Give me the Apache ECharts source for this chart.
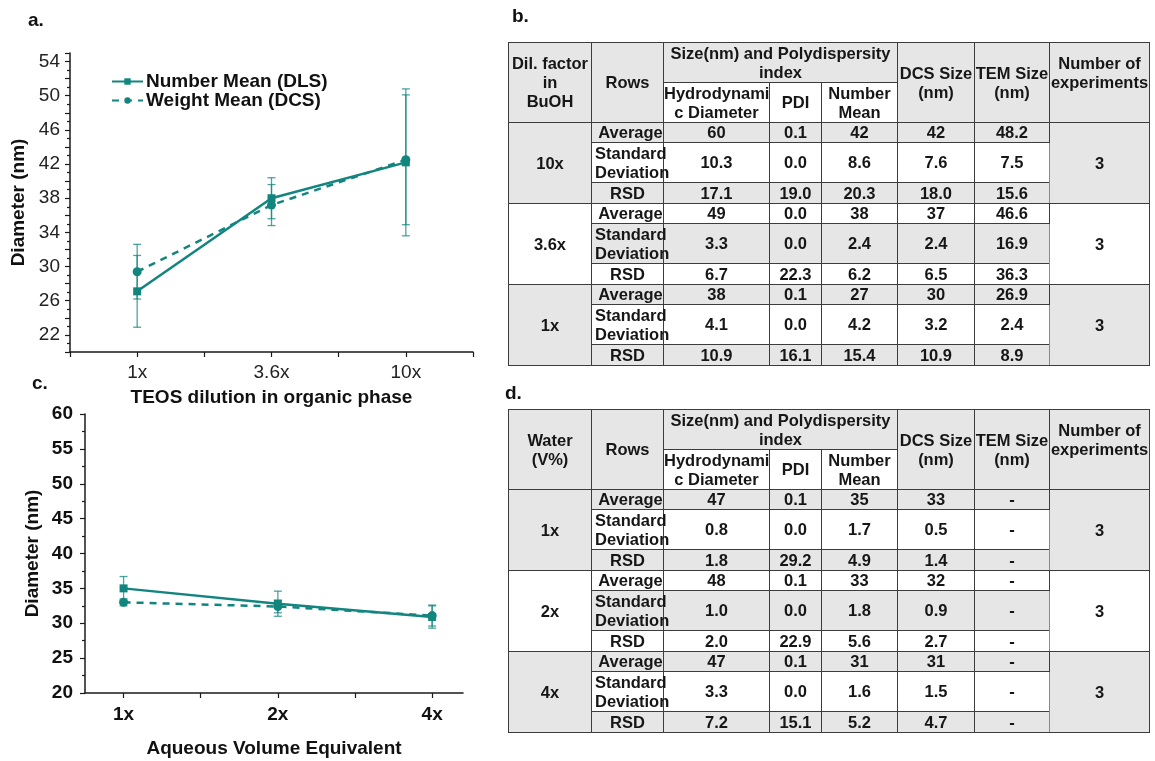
<!DOCTYPE html>
<html><head><meta charset="utf-8">
<script src="https://cdn.jsdelivr.net/npm/echarts@6/dist/echarts.min.js"></script>
<style>
body{margin:0;background:#fff;}
#chart{position:absolute;left:0;top:0;width:1155px;height:761px;}
.lab{position:absolute;font:bold 19px/22px "Liberation Sans",Arial,sans-serif;color:#111;}
table.t{position:absolute;left:508px;border-collapse:collapse;table-layout:fixed;width:641px;font:bold 16.5px/19px "Liberation Sans",Arial,sans-serif;color:#161616;border-top:1px solid #9a9a9a;border-right:1px solid #9a9a9a;}
table.t td{border:1px solid #3c3c3c;padding:0;text-align:center;vertical-align:middle;white-space:nowrap;overflow:visible;}
table.t td.g{background:#e6e6e6;}
table.t td.sd{text-align:left;padding-left:3px;}
table.t td.ex{vertical-align:top;padding-top:11px;border-left:1px solid #8a8a8a;}
table.t td.av{padding-left:6px;}
</style></head>
<body>
<div id="chart"></div>
<div class="lab" style="left:28px;top:9px">a.</div>
<div class="lab" style="left:512px;top:5px">b.</div>
<div class="lab" style="left:32px;top:372px">c.</div>
<div class="lab" style="left:505px;top:382px">d.</div>
<table class="t" id="tabB" style="top:42px"></table>
<table class="t" id="tabD" style="top:409px"></table>
<script>
// ---------- chart a data ----------
const catsA = ['1x', '3.6x', '10x'];
const aDlsMean = [27.1, 38.0, 42.2];
const aDlsErr  = [4.2, 2.4, 8.6];
const aDcsMean = [29.4, 37.2, 42.5];
const aDcsErr  = [3.2, 2.4, 7.6];
const aYLabels = [22, 26, 30, 34, 38, 42, 46, 50, 54];
// ---------- chart c data ----------
const catsC = ['1x', '2x', '4x'];
const cDlsMean = [35.0, 32.8, 30.9];
const cDlsErr  = [1.7, 1.8, 1.6];
const cDcsMean = [33.0, 32.4, 31.1];
const cDcsErr  = [0.5, 0.9, 1.5];
// ---------- table b data ----------
const rowNames = ['Average', 'Standard<br>Deviation', 'RSD'];
const bGroups = ['10x', '3.6x', '1x'];
const bHydro = ['60','10.3','17.1', '49','3.3','6.7', '38','4.1','10.9'];
const bPdi   = ['0.1','0.0','19.0', '0.0','0.0','22.3', '0.1','0.0','16.1'];
const bNum   = ['42','8.6','20.3', '38','2.4','6.2', '27','4.2','15.4'];
const bDcs   = ['42','7.6','18.0', '37','2.4','6.5', '30','3.2','10.9'];
const bTem   = ['48.2','7.5','15.6', '46.6','16.9','36.3', '26.9','2.4','8.9'];
const bExp   = ['3', '3', '3'];
// ---------- table d data ----------
const dGroups = ['1x', '2x', '4x'];
const dHydro = ['47','0.8','1.8', '48','1.0','2.0', '47','3.3','7.2'];
const dPdi   = ['0.1','0.0','29.2', '0.1','0.0','22.9', '0.1','0.0','15.1'];
const dNum   = ['35','1.7','4.9', '33','1.8','5.6', '31','1.6','5.2'];
const dDcs   = ['33','0.5','1.4', '32','0.9','2.7', '31','1.5','4.7'];
const dTem   = ['-','-','-', '-','-','-', '-','-','-'];
const dExp   = ['3', '3', '3'];

const TEAL = '#12857f';
const ERR = 'rgba(18,133,127,0.75)';
const FONT = '"Liberation Sans", Arial, sans-serif';

function buildTable(id, firstHead, groups, hydro, pdi, num, dcs, tem, exp) {
  const widths = [83, 72, 106, 52, 76, 77, 75, 100];
  let h = '<colgroup>' + widths.map(w => '<col style="width:' + w + 'px">').join('') + '</colgroup>';
  h += '<tr style="height:40px"><td class="g" rowspan="2">' + firstHead + '</td>' +
       '<td class="g" rowspan="2">Rows</td>' +
       '<td class="g" colspan="3">Size(nm) and Polydispersity<br>index</td>' +
       '<td class="g" rowspan="2">DCS Size<br>(nm)</td>' +
       '<td class="g" rowspan="2">TEM Size<br>(nm)</td>' +
       '<td class="g ex" rowspan="2">Number of<br>experiments</td></tr>';
  h += '<tr style="height:40px"><td>Hydrodynami<br>c Diameter</td><td>PDI</td><td>Number<br>Mean</td></tr>';
  const rh = [20, 40, 21];
  groups.forEach((gname, gi) => {
    const shade = gi % 2 === 0;
    for (let r = 0; r < 3; r++) {
      const k = gi * 3 + r;
      const rowShade = shade ? (r !== 1) : (r === 1);
      const c = rowShade ? ' class="g"' : '';
      const nameCls = (rowShade ? 'g ' : '') + (r === 1 ? 'sd' : (r === 0 ? 'av' : ''));
      h += '<tr style="height:' + rh[r] + 'px">';
      if (r === 0) h += '<td rowspan="3"' + (shade ? ' class="g"' : '') + '>' + gname + '</td>';
      h += '<td class="' + nameCls + '">' + rowNames[r] + '</td>';
      h += '<td' + c + '>' + hydro[k] + '</td><td' + c + '>' + pdi[k] + '</td><td' + c + '>' + num[k] +
           '</td><td' + c + '>' + dcs[k] + '</td><td' + c + '>' + tem[k] + '</td>';
      if (r === 0) h += '<td rowspan="3" style="border-left:1px solid #8a8a8a"' + (shade ? ' class="g"' : '') + '>' + exp[gi] + '</td>';
      h += '</tr>';
    }
  });
  document.getElementById(id).innerHTML = h;
}
buildTable('tabB', 'Dil. factor<br>in<br>BuOH', bGroups, bHydro, bPdi, bNum, bDcs, bTem, bExp);
buildTable('tabD', 'Water<br>(V%)', dGroups, dHydro, dPdi, dNum, dDcs, dTem, dExp);

function errItem(params, api) {
  const x = api.value(0), y = api.value(1), e = api.value(2);
  const top = api.coord([x, y + e]), bot = api.coord([x, y - e]);
  const hw = 4;
  const style = { stroke: ERR, lineWidth: 1.3, fill: null };
  return { type: 'group', children: [
    { type: 'line', shape: { x1: top[0], y1: top[1], x2: bot[0], y2: bot[1] }, style: style },
    { type: 'line', shape: { x1: top[0] - hw, y1: top[1], x2: top[0] + hw, y2: top[1] }, style: style },
    { type: 'line', shape: { x1: bot[0] - hw, y1: bot[1], x2: bot[0] + hw, y2: bot[1] }, style: style }
  ]};
}
const pts = (m) => m.map((v, i) => [i, v]);
const errPts = (m, e) => m.map((v, i) => [i, v, e[i]]);

const axisLine = { show: true, onZero: false, lineStyle: { color: '#1a1a1a', width: 1.5 } };
const tickStyle = { color: '#1a1a1a', width: 1.2 };

const chart = echarts.init(document.getElementById('chart'), null, { renderer: 'canvas' });
chart.setOption({
  animation: false,
  backgroundColor: '#fff',
  textStyle: { fontFamily: FONT },
  legend: {
    left: 106, top: 67, orient: 'vertical', itemGap: 0, itemWidth: 31, itemHeight: 8,
    data: ['Number Mean (DLS)', 'Weight Mean (DCS)'],
    textStyle: { fontFamily: FONT, fontSize: 19, fontWeight: 'bold', color: '#111', lineHeight: 17, padding: [0, 0, 0, -2] }
  },
  grid: [
    { left: 70, top: 53, width: 403, height: 299, containLabel: false, outerBoundsMode: 'none' },
    { left: 85, top: 414, width: 378, height: 279, containLabel: false, outerBoundsMode: 'none' }
  ],
  xAxis: [
    { gridIndex: 0, type: 'value', min: -0.5, max: 2.5, interval: 0.5,
      axisLine: axisLine, splitLine: { show: false },
      axisTick: { show: true, length: 5, lineStyle: tickStyle },
      axisLabel: { customValues: [0, 1, 2], formatter: v => catsA[Math.round(v)], fontSize: 19, color: '#222', margin: 11, fontFamily: FONT },
      name: 'TEOS dilution in organic phase', nameLocation: 'middle', nameGap: 36,
      nameTextStyle: { fontSize: 19, fontWeight: 'bold', color: '#111', fontFamily: FONT } },
    { gridIndex: 1, type: 'value', min: -0.25, max: 2.2, interval: 0.25,
      axisLine: axisLine, splitLine: { show: false },
      axisTick: { show: true, length: 5, customValues: [0, 0.5, 1, 1.5, 2], lineStyle: tickStyle },
      axisLabel: { customValues: [0, 1, 2], formatter: v => catsC[Math.round(v)], fontSize: 19, fontWeight: 'bold', color: '#111', margin: 12, fontFamily: FONT },
      name: 'Aqueous Volume Equivalent', nameLocation: 'middle', nameGap: 46,
      nameTextStyle: { fontSize: 19, fontWeight: 'bold', color: '#111', fontFamily: FONT } }
  ],
  yAxis: [
    { gridIndex: 0, type: 'value', min: 20, max: 55, interval: 2,
      axisLine: axisLine, splitLine: { show: false },
      axisTick: { show: true, length: 5, lineStyle: tickStyle },
      minorTick: { show: true, splitNumber: 2, length: 3, lineStyle: tickStyle },
      axisLabel: { customValues: aYLabels, fontSize: 19, color: '#222', margin: 10, fontFamily: FONT },
      name: 'Diameter (nm)', nameLocation: 'middle', nameGap: 42,
      nameTextStyle: { fontSize: 19, fontWeight: 'bold', color: '#111', fontFamily: FONT } },
    { gridIndex: 1, type: 'value', min: 20, max: 60, interval: 5,
      axisLine: axisLine, splitLine: { show: false },
      axisTick: { show: true, length: 5, lineStyle: tickStyle },
      minorTick: { show: true, splitNumber: 2, length: 3, lineStyle: tickStyle },
      axisLabel: { fontSize: 19, fontWeight: 'bold', color: '#111', margin: 12, fontFamily: FONT },
      name: 'Diameter (nm)', nameLocation: 'middle', nameGap: 43,
      nameTextStyle: { fontSize: 19, fontWeight: 'bold', color: '#111', fontFamily: FONT } }
  ],
  series: [
    { name: 'errA1', type: 'custom', xAxisIndex: 0, yAxisIndex: 0, renderItem: errItem, data: errPts(aDlsMean, aDlsErr), z: 1 },
    { name: 'errA2', type: 'custom', xAxisIndex: 0, yAxisIndex: 0, renderItem: errItem, data: errPts(aDcsMean, aDcsErr), z: 1 },
    { name: 'Weight Mean (DCS)', type: 'line', xAxisIndex: 0, yAxisIndex: 0, data: pts(aDcsMean),
      symbol: 'circle', symbolSize: 9, color: TEAL,
      lineStyle: { width: 2.5, type: [7, 6], color: TEAL }, itemStyle: { color: TEAL }, z: 2 },
    { name: 'Number Mean (DLS)', type: 'line', xAxisIndex: 0, yAxisIndex: 0, data: pts(aDlsMean),
      symbol: 'rect', symbolSize: 8, color: TEAL,
      lineStyle: { width: 2.5, type: 'solid', color: TEAL }, itemStyle: { color: TEAL }, z: 3 },
    { name: 'errC1', type: 'custom', xAxisIndex: 1, yAxisIndex: 1, renderItem: errItem, data: errPts(cDlsMean, cDlsErr), z: 1 },
    { name: 'errC2', type: 'custom', xAxisIndex: 1, yAxisIndex: 1, renderItem: errItem, data: errPts(cDcsMean, cDcsErr), z: 1 },
    { name: 'Weight Mean (DCS) c', type: 'line', xAxisIndex: 1, yAxisIndex: 1, data: pts(cDcsMean),
      symbol: 'circle', symbolSize: 9, color: TEAL,
      lineStyle: { width: 2.5, type: [7, 6], color: TEAL }, itemStyle: { color: TEAL }, z: 2 },
    { name: 'Number Mean (DLS) c', type: 'line', xAxisIndex: 1, yAxisIndex: 1, data: pts(cDlsMean),
      symbol: 'rect', symbolSize: 8, color: TEAL,
      lineStyle: { width: 2.5, type: 'solid', color: TEAL }, itemStyle: { color: TEAL }, z: 3 }
  ]
});
</script>
</body></html>
